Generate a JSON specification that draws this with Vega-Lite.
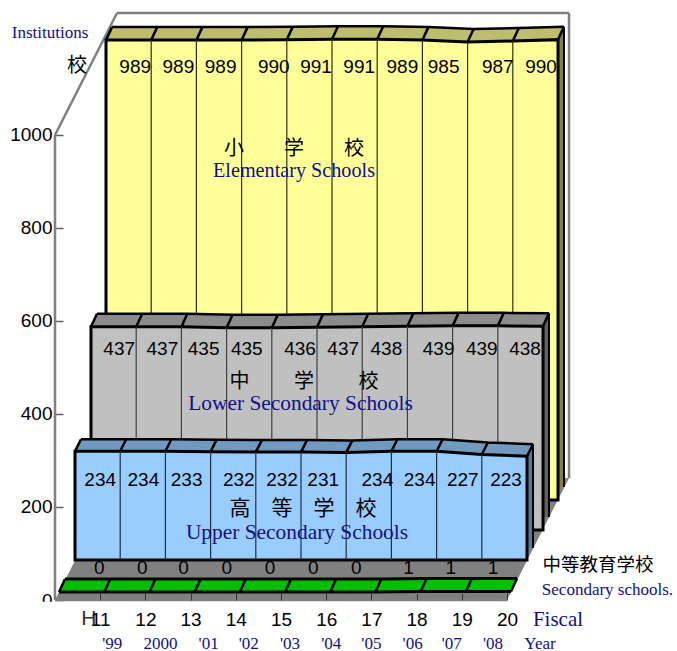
{"$schema":"https://vega.github.io/schema/vega-lite/v6.json","width":622,"height":600,"autosize":{"type":"none"},"padding":{"left":55,"top":0,"right":0,"bottom":51},"background":"white","view":{"stroke":null},"config":{"axis":{"grid":false,"domain":false,"title":null,"labelFont":"Liberation Sans","labelFontSize":19,"labelColor":"#000000"},"text":{"font":"Liberation Sans","fontSize":19,"color":"#000000","baseline":"middle","align":"center"}},
"datasets":{
"elem":[{"year":10,"value":989},{"year":11,"value":989},{"year":12,"value":989},{"year":13,"value":989},{"year":14,"value":990},{"year":15,"value":991},{"year":16,"value":991},{"year":17,"value":989},{"year":18,"value":985},{"year":19,"value":987},{"year":20,"value":990}],
"lower":[{"year":10,"value":437},{"year":11,"value":437},{"year":12,"value":437},{"year":13,"value":435},{"year":14,"value":435},{"year":15,"value":436},{"year":16,"value":437},{"year":17,"value":438},{"year":18,"value":439},{"year":19,"value":439},{"year":20,"value":438}],
"upper":[{"year":10,"value":234},{"year":11,"value":234},{"year":12,"value":234},{"year":13,"value":233},{"year":14,"value":232},{"year":15,"value":232},{"year":16,"value":231},{"year":17,"value":234},{"year":18,"value":234},{"year":19,"value":227},{"year":20,"value":223}],
"sec":[{"year":10,"value":0},{"year":11,"value":0},{"year":12,"value":0},{"year":13,"value":0},{"year":14,"value":0},{"year":15,"value":0},{"year":16,"value":0},{"year":17,"value":0},{"year":18,"value":1},{"year":19,"value":1},{"year":20,"value":1}],
"floor":[{"x":10,"top":0,"base":0},{"x":11.372,"top":262.4,"base":0},{"x":20,"top":262.4,"base":0},{"x":21.372,"top":262.4,"base":262.4}],
"fy":[{"year":11,"label":"'99"},{"year":12,"label":"2000"},{"year":13,"label":"'01"},{"year":14,"label":"'02"},{"year":15,"label":"'03"},{"year":16,"label":"'04"},{"year":17,"label":"'05"},{"year":18,"label":"'06"},{"year":19,"label":"'07"},{"year":20,"label":"'08"}],
"one":[{"k":1}]
},
"layer":[
{"data":{"name":"floor"},"mark":{"type":"area","fill":"#808080"},"encoding":{
"x":{"field":"x","type":"quantitative","scale":{"domain":[10,23.761],"nice":false,"zero":false},"axis":{"values":[11,12,13,14,15,16,17,18,19,20],"format":"d","tickSize":-7,"tickColor":"#333333","tickWidth":1,"labelPadding":17,"zindex":1,"title":null}},
"y":{"field":"top","type":"quantitative","scale":{"domain":[0,1290.3],"nice":false,"zero":false},"axis":{"values":[0,200,400,600,800,1000],"format":"d","tickSize":-8,"tickColor":"#606060","tickWidth":1.5,"labelPadding":11,"zindex":0,"title":null}},
"y2":{"field":"base"}}},
{"data":{"name":"one"},"mark":{"type":"rect","fill":"#ffffff"},"encoding":{"x":{"datum":8.8,"type":"quantitative"},"x2":{"datum":10},"y":{"datum":-4,"type":"quantitative"},"y2":{"datum":-30}}},
{"data":{"name":"one"},"mark":{"type":"rule","stroke":"#808080","strokeWidth":2.5},"encoding":{"x":{"datum":10,"type":"quantitative"},"x2":{"datum":10},"y":{"datum":0,"type":"quantitative"},"y2":{"datum":1000}}},
{"data":{"name":"one"},"mark":{"type":"rule","stroke":"#808080","strokeWidth":2.5},"encoding":{"x":{"datum":10,"type":"quantitative"},"x2":{"datum":20},"y":{"datum":0,"type":"quantitative"},"y2":{"datum":0}}},
{"data":{"name":"one"},"mark":{"type":"rule","stroke":"#808080","strokeWidth":2.5},"encoding":{"x":{"datum":10,"type":"quantitative"},"x2":{"datum":11.372},"y":{"datum":1000,"type":"quantitative"},"y2":{"datum":1262.4}}},
{"data":{"name":"one"},"mark":{"type":"rule","stroke":"#808080","strokeWidth":2.5},"encoding":{"x":{"datum":11.372,"type":"quantitative"},"x2":{"datum":21.372},"y":{"datum":1262.4,"type":"quantitative"},"y2":{"datum":1262.4}}},
{"data":{"name":"one"},"mark":{"type":"rule","stroke":"#808080","strokeWidth":2.5},"encoding":{"x":{"datum":21.372,"type":"quantitative"},"x2":{"datum":21.372},"y":{"datum":1262.4,"type":"quantitative"},"y2":{"datum":262.4}}},

{"data":{"name":"elem"},"encoding":{"x":{"field":"year","type":"quantitative"},"y":{"field":"value","type":"quantitative"}},"layer":[
{"transform":[{"filter":"datum.year==20"}],"mark":{"type":"rule","stroke":"#808040","strokeWidth":6,"xOffset":54,"yOffset":-113,"y2Offset":-113},"encoding":{"y2":{"datum":0}}},
{"transform":[{"filter":"datum.year==20"}],"mark":{"type":"rule","stroke":"#000000","strokeWidth":2,"xOffset":57,"yOffset":-113,"y2Offset":-113},"encoding":{"y2":{"datum":0}}},
{"mark":{"type":"line","stroke":"#BDBD6E","strokeWidth":4,"xOffset":52.2,"yOffset":-102.6}},
{"mark":{"type":"line","stroke":"#BDBD6E","strokeWidth":4,"xOffset":53.4,"yOffset":-105.2}},
{"mark":{"type":"line","stroke":"#BDBD6E","strokeWidth":4,"xOffset":54.6,"yOffset":-107.8}},
{"mark":{"type":"line","stroke":"#BDBD6E","strokeWidth":4,"xOffset":55.8,"yOffset":-110.4}},
{"mark":{"type":"line","stroke":"#000000","strokeWidth":2.5,"xOffset":57,"yOffset":-113}},
{"mark":{"type":"area","fill":"#FFFF99","stroke":"#000000","strokeWidth":3,"xOffset":51,"yOffset":-100,"y2Offset":-100},"encoding":{"y2":{"datum":0}}},
{"mark":{"type":"rule","stroke":"#000000","strokeWidth":2.5,"xOffset":57,"x2Offset":51,"yOffset":-113,"y2Offset":-100},"encoding":{"x2":{"field":"year"},"y2":{"field":"value"}}},
{"transform":[{"filter":"datum.year>=11 && datum.year<=19"}],"mark":{"type":"rule","stroke":"#303010","strokeWidth":1.2,"xOffset":51,"yOffset":-100,"y2Offset":-100},"encoding":{"y2":{"datum":0}}},
{"data":{"name":"one"},"mark":{"type":"rect","fill":"#FFFF99"},"encoding":{"x":{"datum":13.496,"type":"quantitative"},"x2":{"datum":17.1},"y":{"datum":890.3,"type":"quantitative"},"y2":{"datum":995.7}}},
{"transform":[{"filter":"datum.year>=11"}],"mark":{"type":"text","dx":{"expr":"[35,33,30,38,35,33,31,27,36,34][datum.year-11]"}},"encoding":{"y":{"datum":1146.2,"type":"quantitative"},"text":{"field":"value"}}}
]},

{"data":{"name":"lower"},"encoding":{"x":{"field":"year","type":"quantitative"},"y":{"field":"value","type":"quantitative"}},"layer":[
{"transform":[{"filter":"datum.year==20"}],"mark":{"type":"rule","stroke":"#606060","strokeWidth":6,"xOffset":39,"yOffset":-83,"y2Offset":-83},"encoding":{"y2":{"datum":0}}},
{"transform":[{"filter":"datum.year==20"}],"mark":{"type":"rule","stroke":"#000000","strokeWidth":2,"xOffset":42,"yOffset":-83,"y2Offset":-83},"encoding":{"y2":{"datum":0}}},
{"mark":{"type":"line","stroke":"#8C8C8C","strokeWidth":4,"xOffset":37.2,"yOffset":-72.6}},
{"mark":{"type":"line","stroke":"#8C8C8C","strokeWidth":4,"xOffset":38.4,"yOffset":-75.2}},
{"mark":{"type":"line","stroke":"#8C8C8C","strokeWidth":4,"xOffset":39.6,"yOffset":-77.8}},
{"mark":{"type":"line","stroke":"#8C8C8C","strokeWidth":4,"xOffset":40.8,"yOffset":-80.4}},
{"mark":{"type":"line","stroke":"#000000","strokeWidth":2.5,"xOffset":42,"yOffset":-83}},
{"mark":{"type":"area","fill":"#C0C0C0","stroke":"#000000","strokeWidth":3,"xOffset":36,"yOffset":-70,"y2Offset":-70},"encoding":{"y2":{"datum":0}}},
{"mark":{"type":"rule","stroke":"#000000","strokeWidth":2.5,"xOffset":42,"x2Offset":36,"yOffset":-83,"y2Offset":-70},"encoding":{"x2":{"field":"year"},"y2":{"field":"value"}}},
{"transform":[{"filter":"datum.year>=11 && datum.year<=19"}],"mark":{"type":"rule","stroke":"#404040","strokeWidth":1.2,"xOffset":36,"yOffset":-70,"y2Offset":-70},"encoding":{"y2":{"datum":0}}},
{"data":{"name":"one"},"mark":{"type":"rect","fill":"#C0C0C0"},"encoding":{"x":{"datum":12.965,"type":"quantitative"},"x2":{"datum":17.9},"y":{"datum":387.1,"type":"quantitative"},"y2":{"datum":490.3}}},
{"transform":[{"filter":"datum.year>=11"}],"mark":{"type":"text","dx":{"expr":"[19,17,13,11,19,17,15,22,20,18][datum.year-11]"}},"encoding":{"y":{"datum":539.8,"type":"quantitative"},"text":{"field":"value"}}}
]},

{"data":{"name":"upper"},"encoding":{"x":{"field":"year","type":"quantitative"},"y":{"field":"value","type":"quantitative"}},"layer":[
{"transform":[{"filter":"datum.year==20"}],"mark":{"type":"rule","stroke":"#557799","strokeWidth":6,"xOffset":23,"yOffset":-52,"y2Offset":-52},"encoding":{"y2":{"datum":0}}},
{"transform":[{"filter":"datum.year==20"}],"mark":{"type":"rule","stroke":"#000000","strokeWidth":2,"xOffset":26,"yOffset":-52,"y2Offset":-52},"encoding":{"y2":{"datum":0}}},
{"mark":{"type":"line","stroke":"#7299BF","strokeWidth":4,"xOffset":21.2,"yOffset":-42.4}},
{"mark":{"type":"line","stroke":"#7299BF","strokeWidth":4,"xOffset":22.4,"yOffset":-44.8}},
{"mark":{"type":"line","stroke":"#7299BF","strokeWidth":4,"xOffset":23.6,"yOffset":-47.2}},
{"mark":{"type":"line","stroke":"#7299BF","strokeWidth":4,"xOffset":24.8,"yOffset":-49.6}},
{"mark":{"type":"line","stroke":"#000000","strokeWidth":2.5,"xOffset":26,"yOffset":-52}},
{"mark":{"type":"area","fill":"#99CCFF","stroke":"#000000","strokeWidth":3,"xOffset":20,"yOffset":-40,"y2Offset":-40},"encoding":{"y2":{"datum":0}}},
{"mark":{"type":"rule","stroke":"#000000","strokeWidth":2.5,"xOffset":26,"x2Offset":20,"yOffset":-52,"y2Offset":-40},"encoding":{"x2":{"field":"year"},"y2":{"field":"value"}}},
{"transform":[{"filter":"datum.year>=11 && datum.year<=19"}],"mark":{"type":"rule","stroke":"#203040","strokeWidth":1.2,"xOffset":20,"yOffset":-40,"y2Offset":-40},"encoding":{"y2":{"datum":0}}},
{"data":{"name":"one"},"mark":{"type":"rect","fill":"#99CCFF"},"encoding":{"x":{"datum":12.898,"type":"quantitative"},"x2":{"datum":19.624},"y":{"datum":111.8,"type":"quantitative"},"y2":{"datum":217.2}}},
{"transform":[{"filter":"datum.year>=11"}],"mark":{"type":"text","dx":{"expr":"[0,-2,-4,3,1,-3,6,3,1,-1][datum.year-11]"}},"encoding":{"y":{"datum":258.1,"type":"quantitative"},"text":{"field":"value"}}}
]},

{"data":{"name":"sec"},"encoding":{"x":{"field":"year","type":"quantitative"},"y":{"field":"value","type":"quantitative"}},"layer":[
{"transform":[{"filter":"datum.year>=11"}],"mark":{"type":"text","dx":{"expr":"[-1,-3,-7,-9,-11,-13,-15,-8,-11,-14][datum.year-11]"},"color":"#000000"},"encoding":{"y":{"datum":68.8,"type":"quantitative"},"text":{"field":"value"}}},
{"mark":{"type":"line","stroke":"#00BE00","strokeWidth":4,"xOffset":5.2,"yOffset":-10.6}},
{"mark":{"type":"line","stroke":"#00BE00","strokeWidth":4,"xOffset":6.4,"yOffset":-13.2}},
{"mark":{"type":"line","stroke":"#00BE00","strokeWidth":4,"xOffset":7.6,"yOffset":-15.8}},
{"mark":{"type":"line","stroke":"#00BE00","strokeWidth":4,"xOffset":8.8,"yOffset":-18.4}},
{"mark":{"type":"line","stroke":"#000000","strokeWidth":3,"xOffset":10,"yOffset":-21}},
{"mark":{"type":"line","stroke":"#000000","strokeWidth":3,"xOffset":4,"yOffset":-8}},
{"mark":{"type":"rule","stroke":"#000000","strokeWidth":2.5,"xOffset":10,"x2Offset":4,"yOffset":-21,"y2Offset":-8},"encoding":{"x2":{"field":"year"},"y2":{"field":"value"}}}
]},

{"data":{"name":"fy"},"mark":{"type":"text","font":"Liberation Serif","fontSize":17,"color":"#10108C","dx":{"expr":"[12,15,18,13,9,5,0,-4,-10,-14][datum.year-11]"}},"encoding":{"x":{"field":"year","type":"quantitative"},"y":{"datum":-94.6,"type":"quantitative"},"text":{"field":"label"}}},
{"data":{"name":"one"},"mark":{"type":"text","text":"Institutions","font":"Liberation Serif","fontSize":17,"color":"#10108C"},"encoding":{"x":{"datum":9.889,"type":"quantitative"},"y":{"datum":1219.4,"type":"quantitative"}}},
{"data":{"name":"one"},"mark":{"type":"text","text":"校","font":"Noto Sans CJK JP","fontSize":20},"encoding":{"x":{"datum":10.487,"type":"quantitative"},"y":{"datum":1148.4,"type":"quantitative"}}},
{"data":{"name":"one"},"mark":{"type":"text","text":"小　　学　　校","font":"Noto Sans CJK JP","fontSize":20},"encoding":{"x":{"datum":15.288,"type":"quantitative"},"y":{"datum":969.9,"type":"quantitative"}}},
{"data":{"name":"one"},"mark":{"type":"text","text":"Elementary Schools","font":"Liberation Serif","fontSize":20.2,"color":"#10108C"},"encoding":{"x":{"datum":15.288,"type":"quantitative"},"y":{"datum":922.6,"type":"quantitative"}}},
{"data":{"name":"one"},"mark":{"type":"text","text":"中　　 学　　 校","font":"Noto Sans CJK JP","fontSize":20},"encoding":{"x":{"datum":15.509,"type":"quantitative"},"y":{"datum":468.8,"type":"quantitative"}}},
{"data":{"name":"one"},"mark":{"type":"text","text":"Lower Secondary Schools","font":"Liberation Serif","fontSize":21.4,"color":"#10108C"},"encoding":{"x":{"datum":15.431,"type":"quantitative"},"y":{"datum":421.5,"type":"quantitative"}}},
{"data":{"name":"one"},"mark":{"type":"text","text":"高　等　学　校","font":"Noto Sans CJK JP","fontSize":21},"encoding":{"x":{"datum":15.487,"type":"quantitative"},"y":{"datum":195.7,"type":"quantitative"}}},
{"data":{"name":"one"},"mark":{"type":"text","text":"Upper Secondary Schools","font":"Liberation Serif","fontSize":21.4,"color":"#10108C"},"encoding":{"x":{"datum":15.354,"type":"quantitative"},"y":{"datum":144.1,"type":"quantitative"}}},
{"data":{"name":"one"},"mark":{"type":"text","text":"中等教育学校","font":"Noto Sans CJK JP","fontSize":18.5},"encoding":{"x":{"datum":22.013,"type":"quantitative"},"y":{"datum":75.3,"type":"quantitative"}}},
{"data":{"name":"one"},"mark":{"type":"text","text":"Secondary schools.","font":"Liberation Serif","fontSize":17,"color":"#10108C"},"encoding":{"x":{"datum":22.223,"type":"quantitative"},"y":{"datum":21.5,"type":"quantitative"}}},
{"data":{"name":"one"},"mark":{"type":"text","text":"Fiscal","font":"Liberation Serif","fontSize":21,"color":"#10108C"},"encoding":{"x":{"datum":21.128,"type":"quantitative"},"y":{"datum":-43,"type":"quantitative"}}},
{"data":{"name":"one"},"mark":{"type":"text","text":"Year","font":"Liberation Serif","fontSize":17,"color":"#10108C"},"encoding":{"x":{"datum":20.73,"type":"quantitative"},"y":{"datum":-94.6,"type":"quantitative"}}},
{"data":{"name":"one"},"mark":{"type":"text","text":"H","font":"Liberation Sans","fontSize":21,"color":"#333333"},"encoding":{"x":{"datum":10.75,"type":"quantitative"},"y":{"datum":-40,"type":"quantitative"}}}
]}
